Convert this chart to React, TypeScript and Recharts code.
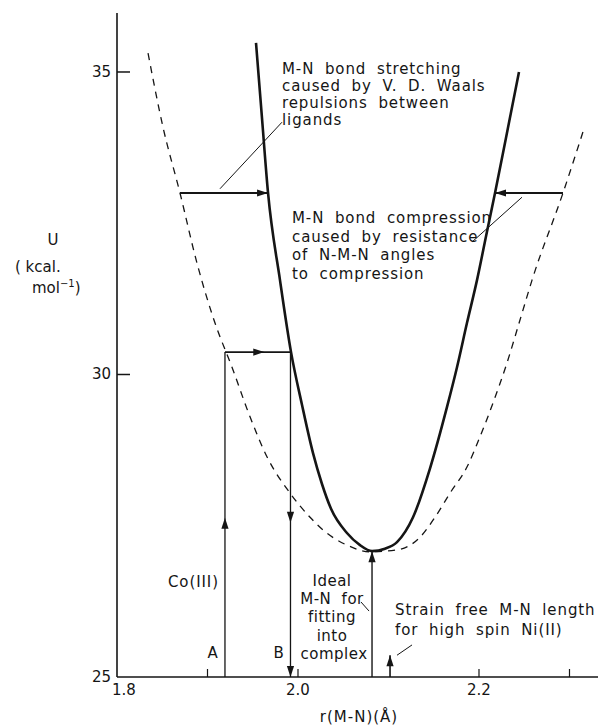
import React from "react"
import { ComposedChart, Line, XAxis, YAxis, ReferenceLine } from "recharts"

const W = 598
const H = 726
const FONT = "'DejaVu Sans', Lato, sans-serif"
const INK = "#151515"

// solid curve: M-N potential inside the complex
const strainR = [1.9536, 1.9602, 1.9669, 1.9801, 1.9923, 2.0044, 2.0166, 2.0265, 2.0365, 2.0541, 2.0685, 2.0818, 2.0961, 2.1094, 2.1271, 2.1459, 2.1646, 2.1757, 2.1867, 2.1978, 2.2088, 2.2177, 2.2298, 2.2442]
const strainU = [35.48, 34.24, 33.0, 31.56, 30.37, 29.5, 28.7, 28.19, 27.78, 27.38, 27.18, 27.08, 27.12, 27.23, 27.64, 28.45, 29.46, 30.12, 30.85, 31.56, 32.36, 33.0, 33.91, 35.0]

// dashed curve: strain free M-N potential
const freeR = [1.8343, 1.8508, 1.8696, 1.8884, 1.9083, 1.9271, 1.947, 1.9657, 1.9912, 2.0133, 2.0276, 2.0541, 2.0796, 2.1094, 2.1348, 2.1514, 2.168, 2.1867, 2.2011, 2.2155, 2.2309, 2.2453, 2.2586, 2.2928, 2.3149]
const freeU = [35.31, 34.09, 33.0, 31.84, 30.85, 30.12, 29.3, 28.64, 28.04, 27.64, 27.43, 27.18, 27.07, 27.1, 27.31, 27.64, 28.04, 28.47, 28.97, 29.53, 30.19, 30.9, 31.56, 33.0, 34.01]

const xTicks = [1.8, 1.9, 2.0, 2.2, 2.3]
const xTickLabels = ["1.8", "", "2.0", "2.2", ""]
const yTicks = [25, 30, 35]
const yTickLabels = ["25", "30", "35"]

// arrows (start r, start U) -> (end r, end U)
const arrowStartR = [1.8696, 2.2928, 1.9193, 1.9193, 1.9917, 2.0818, 2.1017]
const arrowStartU = [33.0, 33.0, 30.37, 25, 30.37, 25, 25]
const arrowEndR = [1.9669, 2.2177, 1.9917, 1.9193, 1.9917, 2.0818, 2.1017]
const arrowEndU = [33.0, 33.0, 30.37, 30.37, 25, 27.08, 25.36]
const arrowHeads = [[1], [1], [0.6], [0.49], [0.525, 1], [1], [1]]
const arrowWidths = [1.8, 1.8, 1.6, 1.3, 1.3, 1.4, 1.6]

// leader lines from the notes
const leaderStartR = [1.9138, 2.1923, 2.0696, 2.1094]
const leaderStartU = [33.07, 32.19, 26.24, 25.36]
const leaderEndR = [1.9823, 2.2475, 2.0785, 2.126]
const leaderEndU = [34.17, 32.93, 26.09, 25.53]

const strainData = strainR.map((r, i) => ({ r, u: strainU[i] }))
const freeData = freeR.map((r, i) => ({ r, u: freeU[i] }))

const arrowShape = (heads: number[], sw: number) => (p: any) => {
  const { x1, y1, x2, y2 } = p
  const dx = x2 - x1
  const dy = y2 - y1
  const len = Math.hypot(dx, dy) || 1
  const ux = dx / len
  const uy = dy / len
  const L = 11
  const hw = 3.6
  return (
    <g>
      <line x1={x1} y1={y1} x2={x2} y2={y2} stroke={INK} strokeWidth={sw} />
      {heads.map((t, i) => {
        const tx = x1 + dx * t
        const ty = y1 + dy * t
        const bx = tx - ux * L
        const by = ty - uy * L
        return (
          <polygon
            key={i}
            points={`${tx},${ty} ${bx - uy * hw},${by + ux * hw} ${bx + uy * hw},${by - ux * hw}`}
            fill={INK}
          />
        )
      })}
    </g>
  )
}

const YTick = ({ x, y, index }: any) => (
  <g>
    {index > 0 && <line x1={x} x2={x + 13} y1={y} y2={y} stroke={INK} strokeWidth={1.5} />}
    <text x={x - 6} y={y + 5} textAnchor="end" fontFamily={FONT} fontSize={15} fill={INK}>
      {yTickLabels[index]}
    </text>
  </g>
)

const XTick = ({ x, y, index }: any) => (
  <g>
    {index > 0 && <line x1={x} x2={x} y1={y} y2={y - 8} stroke={INK} strokeWidth={1.2} />}
    <text x={index === 0 ? x + 7 : x} y={y + 18} textAnchor="middle" fontFamily={FONT} fontSize={15} fill={INK}>
      {xTickLabels[index]}
    </text>
  </g>
)

const noteStyle = { fontFamily: FONT, fontSize: 15, fill: INK, letterSpacing: 0.9, wordSpacing: 5 }

export default function App() {
  return (
    <div style={{ position: "absolute", left: 0, top: 0, width: W, height: H, background: "#fff" }}>
      <ComposedChart width={W} height={H} margin={{ top: 13, right: 0, bottom: 0, left: 0 }}>
        <XAxis
          type="number"
          dataKey="r"
          domain={[1.8, 2.3315]}
          allowDataOverflow
          ticks={xTicks}
          tickSize={0}
          tickMargin={0}
          tickLine={false}
          height={49}
          axisLine={{ stroke: INK, strokeWidth: 1.6 }}
          tick={<XTick />}
        />
        <YAxis
          type="number"
          dataKey="u"
          domain={[25, 35.975]}
          allowDataOverflow
          ticks={yTicks}
          tickSize={0}
          tickMargin={0}
          tickLine={false}
          width={117}
          axisLine={{ stroke: INK, strokeWidth: 1.6 }}
          tick={<YTick />}
        />
        <Line
          data={freeData}
          dataKey="u"
          type="monotone"
          stroke={INK}
          strokeWidth={1.3}
          strokeDasharray="7 6"
          dot={false}
          isAnimationActive={false}
        />
        <Line
          data={strainData}
          dataKey="u"
          type="monotone"
          stroke={INK}
          strokeWidth={2.6}
          dot={false}
          isAnimationActive={false}
        />
        {arrowStartR.map((r, i) => (
          <ReferenceLine
            key={"a" + i}
            ifOverflow="visible"
            segment={[{ x: r, y: arrowStartU[i] }, { x: arrowEndR[i], y: arrowEndU[i] }]}
            shape={arrowShape(arrowHeads[i], arrowWidths[i])}
          />
        ))}
        {leaderStartR.map((r, i) => (
          <ReferenceLine
            key={"l" + i}
            ifOverflow="visible"
            segment={[{ x: r, y: leaderStartU[i] }, { x: leaderEndR[i], y: leaderEndU[i] }]}
            stroke={INK}
            strokeWidth={1}
          />
        ))}

        <text {...noteStyle}>
          <tspan x={282} y={74}>M-N bond stretching</tspan>
          <tspan x={282} y={91}>caused by V. D. Waals</tspan>
          <tspan x={282} y={108}>repulsions between</tspan>
          <tspan x={282} y={125}>ligands</tspan>
        </text>
        <text {...noteStyle}>
          <tspan x={292} y={223}>M-N bond compression</tspan>
          <tspan x={292} y={241.5}>caused by resistance</tspan>
          <tspan x={292} y={260}>of N-M-N angles</tspan>
          <tspan x={292} y={279}>to compression</tspan>
        </text>
        <text {...noteStyle} x={168} y={587}>Co(III)</text>
        <text {...noteStyle} x={213} y={658} textAnchor="middle">A</text>
        <text {...noteStyle} x={279} y={658} textAnchor="middle">B</text>
        <text {...noteStyle} textAnchor="middle" letterSpacing={0.5}>
          <tspan x={332} y={586}>Ideal</tspan>
          <tspan x={332} y={604}>M-N for</tspan>
          <tspan x={332} y={622}>fitting</tspan>
          <tspan x={332} y={641}>into</tspan>
          <tspan x={334} y={659}>complex</tspan>
        </text>
        <text {...noteStyle}>
          <tspan x={395} y={615}>Strain free M-N length</tspan>
          <tspan x={395} y={635}>for high spin Ni(II)</tspan>
        </text>

        <text fontFamily={FONT} fontSize={15} fill={INK} textAnchor="middle" x={53} y={245}>U</text>
        <text fontFamily={FONT} fontSize={15} fill={INK} x={15} y={272}>( kcal.</text>
        <text fontFamily={FONT} fontSize={15} fill={INK} x={32} y={293}>
          mol<tspan fontSize={10} dy={-6}>−1</tspan><tspan dy={6}>)</tspan>
        </text>
        <text fontFamily={FONT} fontSize={15} fill={INK} textAnchor="middle" x={359} y={722} letterSpacing={1}>
          r(M-N)(Å)
        </text>
      </ComposedChart>
    </div>
  )
}
